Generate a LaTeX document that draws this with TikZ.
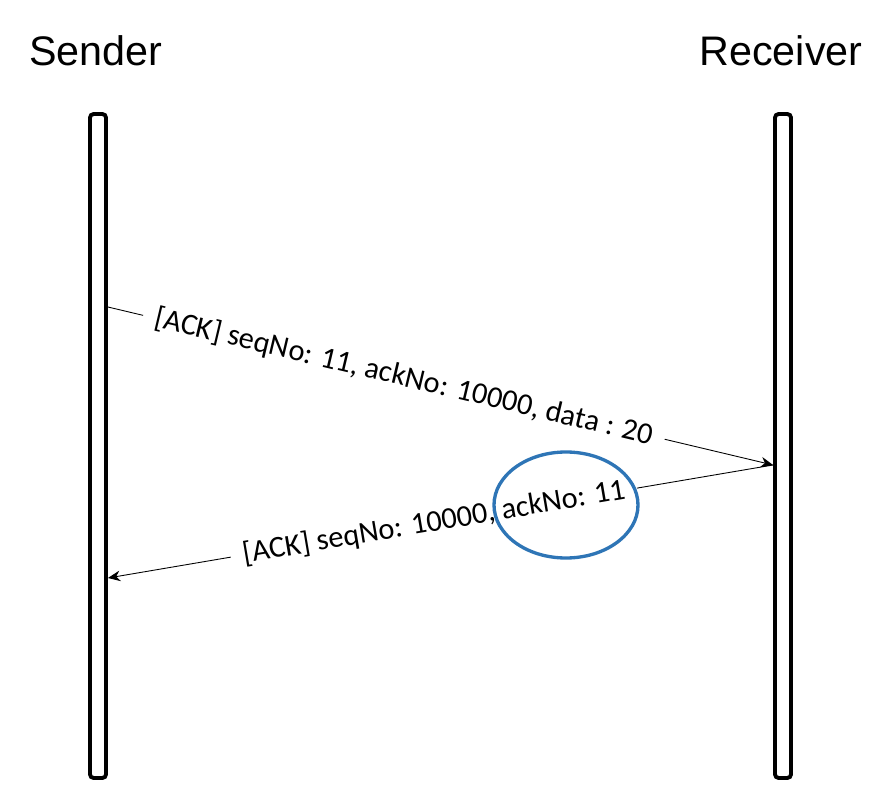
\documentclass[tikz,border=0pt]{standalone}
\usepackage{fontspec}
\setmainfont{Carlito}
\newfontfamily\headfont{Liberation Sans}
\usetikzlibrary{arrows.meta,positioning,calc}
\definecolor{ovalblue}{RGB}{46,117,182}

\begin{document}
\begin{tikzpicture}[x=0.02cm,y=-0.02cm,
  lifeline/.style={draw,line width=2.2pt,rounded corners=2pt,minimum width=0.32cm,minimum height=13.28cm,inner sep=0pt,fill=white},
  actor/.style={font=\headfont\fontsize{23.5}{28}\selectfont},
  msg/.style={-{Stealth[length=7pt,width=6pt]},line width=0.5pt},
  msglbl/.style={sloped,fill=white,inner sep=7pt,font=\fontsize{17.3}{20}\selectfont}]
  \useasboundingbox (0,0) rectangle (886,804);
  \node[actor] (sender) at (96,51) {Sender};
  \node[actor] (receiver) at (781,51) {Receiver};
  \node[lifeline] (sbar) at (98,446) {};
  \node[lifeline] (rbar) at (783,446) {};
  \coordinate (m1s) at (sbar.east |- 0,307);
  \coordinate (m1e) at (rbar.west |- 0,465);
  \coordinate (m2e) at (sbar.east |- 0,578);
  % data segment and its ack
  \draw[msg] (m1s) -- node[msglbl,pos=0.445] {[ACK] seqNo: 11, ackNo: 10000, data : 20} (m1e);
  \draw[msg] (m1e) -- node[msglbl,pos=0.51] {[ACK] seqNo: 10000, ackNo: 11} (m2e);
  \draw[ovalblue,line width=1.9pt] (566,505) ellipse [x radius=72,y radius=53];
\end{tikzpicture}
\end{document}
